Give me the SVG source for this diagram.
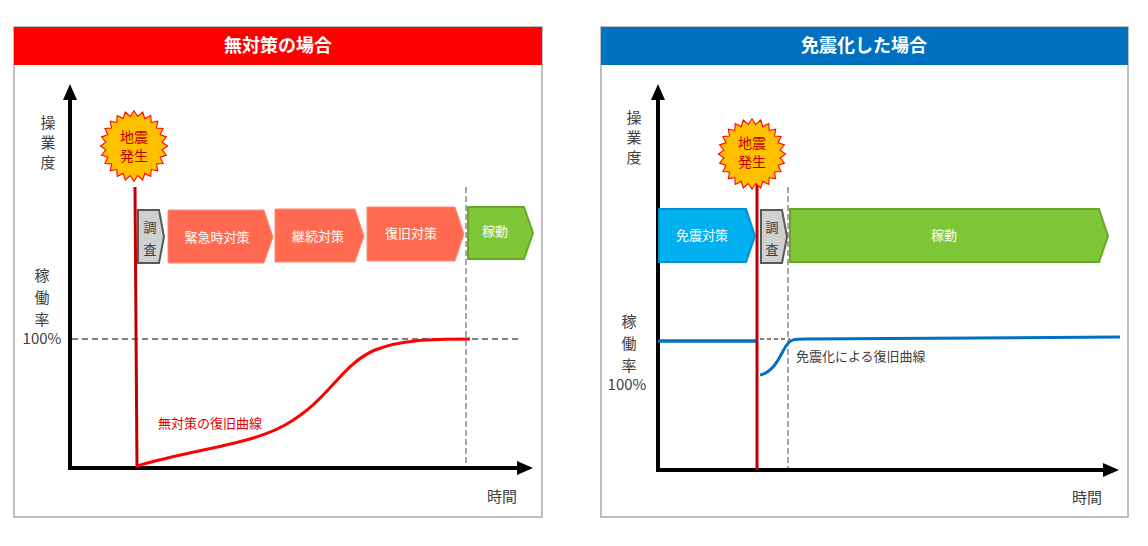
<svg xmlns="http://www.w3.org/2000/svg" width="1148" height="546" viewBox="0 0 1148 546">
<style>
text{font-family:"Noto Sans CJK JP","Noto Sans",sans-serif}
.title{font-size:18px;font-weight:bold;fill:#fff;text-anchor:middle}
.ax{font-size:15px;fill:#404040;text-anchor:middle}
.lbl{font-size:13px;fill:#fff;text-anchor:middle}
.star{fill:#ffc000;stroke:#ff0000;stroke-width:1}
.st{font-size:14px;fill:#c00000;text-anchor:middle}
.gray{fill:#d0d0d0;stroke:#595959;stroke-width:2}
.sal{fill:#ff6a50;stroke:#ff8a75;stroke-width:1}
.grn{fill:#7fc636;stroke:#6aa52a;stroke-width:2}
.blu{fill:#00b0f0;stroke:#0090d0;stroke-width:2}
.axis{stroke:#000;stroke-width:4;fill:none}
</style>
<defs>
<polygon id="burst" points="32,0 26.8,3.5 30.9,8.3 24.9,10.3 27.7,16 21.4,16.4 22.6,22.6 16.4,21.4 16,27.7 10.3,24.9 8.3,30.9 3.5,26.8 0,32 -3.5,26.8 -8.3,30.9 -10.3,24.9 -16,27.7 -16.4,21.4 -22.6,22.6 -21.4,16.4 -27.7,16 -24.9,10.3 -30.9,8.3 -26.8,3.5 -32,0 -26.8,-3.5 -30.9,-8.3 -24.9,-10.3 -27.7,-16 -21.4,-16.4 -22.6,-22.6 -16.4,-21.4 -16,-27.7 -10.3,-24.9 -8.3,-30.9 -3.5,-26.8 0,-32 3.5,-26.8 8.3,-30.9 10.3,-24.9 16,-27.7 16.4,-21.4 22.6,-22.6 21.4,-16.4 27.7,-16 24.9,-10.3 30.9,-8.3 26.8,-3.5"/>
</defs>
<rect width="1148" height="546" fill="#fff"/>

<g id="left-panel">
<rect x="14" y="27" width="528" height="490" fill="#fff" stroke="#bfbfbf" stroke-width="2"/>
<rect x="14" y="27" width="528" height="38" fill="#ff0000"/>
<text class="title" x="278" y="52">無対策の場合</text>
<text class="ax" x="48" y="128">操</text><text class="ax" x="48" y="148">業</text><text class="ax" x="48" y="168">度</text>
<text class="ax" x="42" y="281">稼</text><text class="ax" x="42" y="303">働</text><text class="ax" x="42" y="325">率</text><text class="ax" x="42" y="344">100%</text>
<text class="ax" x="502" y="502">時間</text>
</g>
<g id="left-connectors">
<line x1="72" y1="339" x2="518" y2="339" stroke="#000" stroke-dasharray="6,4"/>
<line x1="466" y1="187" x2="466" y2="468" stroke="#a6a6a6" stroke-width="2" stroke-dasharray="6,3"/>
<line x1="70" y1="470" x2="70" y2="98" class="axis"/>
<polygon points="70,84 63,100 77,100"/>
<line x1="68" y1="468" x2="518" y2="468" class="axis"/>
<polygon points="533,468 517,461 517,475"/>
<line x1="135" y1="187" x2="137" y2="468" stroke="#c00000" stroke-width="3"/>
<path d="M137,466 C190,450 250,445 285,425 C330,400 340,365 375,350 C400,340 430,339 470,339" fill="none" stroke="#ff0000" stroke-width="3"/>
<text x="158" y="428" font-size="13" fill="#e00000">無対策の復旧曲線</text>
</g>
<g id="left-quake"><use href="#burst" class="star" transform="translate(134,146) scale(1.05,1.1)"/><text class="st" x="134" y="142">地震</text><text class="st" x="134" y="161">発生</text></g>
<g id="l-chosa"><polygon class="gray" points="138,210 159,210 164,237 159,263 138,263"/><text x="150" y="232" font-size="13" fill="#404040" text-anchor="middle">調</text><text x="150" y="254" font-size="13" fill="#404040" text-anchor="middle">査</text></g>
<g id="l-kinkyu"><polygon class="sal" points="168,210 264,210 273,237 264,263 168,263"/><text class="lbl" x="217" y="242">緊急時対策</text></g>
<g id="l-keizoku"><polygon class="sal" points="275,209 355,209 364,236 355,262 275,262"/><text class="lbl" x="318" y="241">継続対策</text></g>
<g id="l-fukkyu"><polygon class="sal" points="367,207 455,207 464,234 455,261 367,261"/><text class="lbl" x="411" y="238">復旧対策</text></g>
<g id="l-kado"><polygon class="grn" points="468,207 524,207 533,233 524,259 468,259"/><text class="lbl" x="495" y="236">稼動</text></g>

<g id="right-panel">
<rect x="601" y="27" width="527" height="490" fill="#fff" stroke="#bfbfbf" stroke-width="2"/>
<rect x="601" y="27" width="527" height="38" fill="#0070c0"/>
<text class="title" x="864" y="52">免震化した場合</text>
<text class="ax" x="634" y="123">操</text><text class="ax" x="634" y="143">業</text><text class="ax" x="634" y="163">度</text>
<text class="ax" x="629" y="327">稼</text><text class="ax" x="629" y="349">働</text><text class="ax" x="629" y="371">率</text><text class="ax" x="627" y="390">100%</text>
<text class="ax" x="1087" y="503">時間</text>
</g>
<g id="right-connectors">
<line x1="760" y1="339" x2="790" y2="339" stroke="#000" stroke-dasharray="4,3"/>
<line x1="788" y1="187" x2="788" y2="470" stroke="#a6a6a6" stroke-width="2" stroke-dasharray="6,3"/>
<line x1="658" y1="472" x2="658" y2="98" class="axis"/>
<polygon points="658,84 651,100 665,100"/>
<line x1="656" y1="470" x2="1104" y2="470" class="axis"/>
<polygon points="1119,470 1103,463 1103,477"/>
<line x1="658" y1="341" x2="757" y2="341" stroke="#0070c0" stroke-width="3.5"/>
<path d="M760,375 C775,372 780,355 786,346 C790,339 795,339 805,339 L1120,337" fill="none" stroke="#0070c0" stroke-width="3"/>
<line x1="757" y1="185" x2="757" y2="470" stroke="#c00000" stroke-width="3"/>
<text x="796" y="361" font-size="13" fill="#404040">免震化による復旧曲線</text>
</g>
<g id="right-quake"><use href="#burst" class="star" transform="translate(752,154) scale(1.05,1.1)"/><text class="st" x="752" y="148">地震</text><text class="st" x="752" y="167">発生</text></g>
<g id="r-menshin"><polygon class="blu" points="659,209 746,209 755,236 746,262 659,262"/><text class="lbl" x="702" y="240">免震対策</text></g>
<g id="r-chosa"><polygon class="gray" points="761,210 782,210 787,237 782,263 761,263"/><text x="772" y="232" font-size="13" fill="#404040" text-anchor="middle">調</text><text x="772" y="254" font-size="13" fill="#404040" text-anchor="middle">査</text></g>
<g id="r-kado"><polygon class="grn" points="790,209 1099,209 1108,236 1099,262 790,262"/><text class="lbl" x="944" y="240">稼動</text></g>
</svg>
